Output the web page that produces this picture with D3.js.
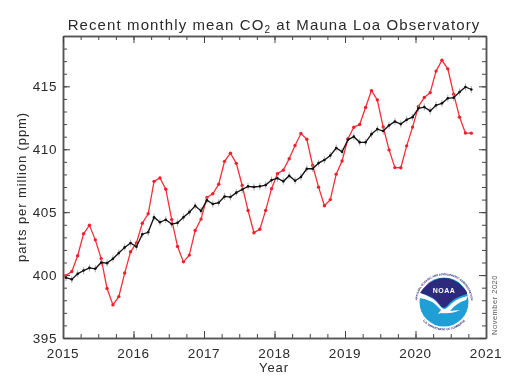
<!DOCTYPE html>
<html>
<head>
<meta charset="utf-8">
<script src="https://cdn.jsdelivr.net/npm/d3@7"></script>
<style>
	html, body { margin: 0; padding: 0; background: #fff; }
	svg { display: block; filter: blur(0.45px); }
	text { font-family: "Liberation Sans", sans-serif; fill: #2a2a2a; }
	.tick_label { font-size: 13.5px; letter-spacing: 0.6px; }
	.axis_title { font-size: 13px; letter-spacing: 0.9px; }
	.axis path { stroke: #555; stroke-width: 1.5; }
	.axis line { stroke: #444; stroke-width: 1; }
	.logo_ring { font-size: 2.8px; font-weight: bold; fill: #1c1c68; }
</style>
</head>
<body>
<svg id="chart" width="521" height="377"></svg>
<script>
// Monthly mean CO2, one row per year, starting January 2015
const startYear = 2015;
const monthly2015 = [399.98, 400.28, 401.54, 403.28, 403.96, 402.80, 401.31, 398.93, 397.63, 398.29, 400.16, 401.85];
const monthly2016 = [402.56, 404.12, 404.87, 407.45, 407.72, 406.83, 404.41, 402.27, 401.05, 401.59, 403.55, 404.45];
const monthly2017 = [406.17, 406.46, 407.22, 409.04, 409.69, 408.88, 407.12, 405.13, 403.37, 403.64, 405.14, 406.87];
const monthly2018 = [408.05, 408.34, 409.25, 410.30, 411.25, 410.79, 408.71, 406.99, 405.51, 406.00, 408.02, 409.07];
const monthly2019 = [410.83, 411.75, 411.97, 413.32, 414.66, 413.92, 411.77, 409.95, 408.54, 408.53, 410.27, 411.76];
const monthly2020 = [413.40, 414.11, 414.50, 416.21, 417.07, 416.39, 414.38, 412.55, 411.29, 411.28];

// Seasonally corrected trend
const trend2015 = [399.8, 399.66, 400.1, 400.36, 400.57, 400.5, 401.0, 400.95, 401.3, 401.75, 402.2, 402.55];
const trend2016 = [402.25, 403.25, 403.4, 404.6, 404.2, 404.4, 404.05, 404.15, 404.6, 405.0, 405.5, 405.1];
const trend2017 = [405.95, 405.65, 405.75, 406.25, 406.2, 406.55, 406.8, 407.05, 407.0, 407.05, 407.15, 407.55];
const trend2018 = [407.7, 407.45, 407.9, 407.5, 407.8, 408.45, 408.45, 408.9, 409.15, 409.5, 410.1, 409.8];
const trend2019 = [410.75, 411.0, 410.55, 410.55, 411.2, 411.6, 411.45, 411.9, 412.2, 412.0, 412.35, 412.55];
const trend2020 = [413.25, 413.35, 413.05, 413.5, 413.65, 414.05, 414.1, 414.55, 414.95, 414.75];

const trendError = 0.28;

const yearTicks = [2015, 2016, 2017, 2018, 2019, 2020, 2021];
const ppmTicks = [395, 400, 405, 410, 415];

const l = { left: 63, right: 486, top: 36, bottom: 338 };

const monthlyData = [monthly2015, monthly2016, monthly2017, monthly2018, monthly2019, monthly2020].flat();
const trendData = [trend2015, trend2016, trend2017, trend2018, trend2019, trend2020].flat();
const decimalDate = (i) => startYear + (i + 0.5) / 12;

const xScale = d3.scaleLinear().domain([2015, 2021]).range([l.left, l.right]);
const yScale = d3.scaleLinear().domain([395, 419]).range([l.bottom, l.top]);

const svg = d3.select('#chart');

// Frame side: minor ticks first, then majors with the domain line
function renderAxis(axisFn, scale, translate, majors, minors) {
	svg.append('g')
		.attr('class', 'axis')
		.attr('transform', translate)
		.call(axisFn(scale).tickValues(minors).tickSize(-4).tickSizeOuter(0).tickFormat(''));
	svg.append('g')
		.attr('class', 'axis')
		.attr('transform', translate)
		.call(axisFn(scale).tickValues(majors).tickSize(-7).tickSizeOuter(0).tickFormat(''));
}

const xMinor = d3.range(0, 25).map(i => 2015 + i / 4);
const yMinor = d3.range(395, 420);

renderAxis(d3.axisBottom, xScale, `translate(0,${l.bottom})`, yearTicks, xMinor);
renderAxis(d3.axisLeft, yScale, `translate(${l.left},0)`, ppmTicks, yMinor);
renderAxis(d3.axisTop, xScale, `translate(0,${l.top})`, yearTicks, xMinor);
renderAxis(d3.axisRight, yScale, `translate(${l.right},0)`, ppmTicks, yMinor);

svg.selectAll('.x_label')
	.data(yearTicks).enter()
	.append('text')
	.attr('class', 'tick_label x_label')
	.attr('x', d => xScale(d))
	.attr('y', 358)
	.attr('text-anchor', 'middle')
	.text(d => d);

svg.selectAll('.y_label')
	.data(ppmTicks).enter()
	.append('text')
	.attr('class', 'tick_label y_label')
	.attr('x', 57)
	.attr('y', d => yScale(d) + 5)
	.attr('text-anchor', 'end')
	.text(d => d);

// Titles
const title = svg.append('text')
	.attr('x', 274)
	.attr('y', 30)
	.attr('text-anchor', 'middle')
	.style('font-size', '15px')
	.style('letter-spacing', '1.1px');
title.append('tspan').text('Recent monthly mean CO');
title.append('tspan').attr('dy', 3).style('font-size', '10px').text('2');
title.append('tspan').attr('dy', -3).text(' at Mauna Loa Observatory');

svg.append('text')
	.attr('class', 'axis_title')
	.attr('x', 274)
	.attr('y', 372)
	.attr('text-anchor', 'middle')
	.text('Year');

svg.append('text')
	.attr('class', 'axis_title')
	.attr('transform', 'translate(26,187) rotate(-90)')
	.attr('text-anchor', 'middle')
	.text('parts per million (ppm)');

svg.append('text')
	.attr('transform', 'translate(497,305) rotate(-90)')
	.attr('text-anchor', 'middle')
	.style('font-size', '7.5px')
	.style('letter-spacing', '0.5px')
	.style('fill', '#555')
	.text('November 2020');

// Monthly mean (red)
const lineGen = d3.line()
	.x((d, i) => xScale(decimalDate(i)))
	.y(d => yScale(d));

svg.append('path')
	.datum(monthlyData)
	.attr('class', 'monthly_line')
	.attr('d', lineGen)
	.style('fill', 'none')
	.style('stroke', '#f5303a')
	.style('stroke-width', 1.3);

svg.selectAll('.monthly_point')
	.data(monthlyData).enter()
	.append('circle')
	.attr('class', 'monthly_point')
	.attr('cx', (d, i) => xScale(decimalDate(i)))
	.attr('cy', d => yScale(d))
	.attr('r', 1.7)
	.style('fill', '#f0202c');

// Trend (black) with whiskers
svg.selectAll('.trend_whisker')
	.data(trendData).enter()
	.append('line')
	.attr('class', 'trend_whisker')
	.attr('x1', (d, i) => xScale(decimalDate(i)))
	.attr('x2', (d, i) => xScale(decimalDate(i)))
	.attr('y1', d => yScale(d - trendError))
	.attr('y2', d => yScale(d + trendError))
	.style('stroke', '#999')
	.style('stroke-width', 0.8);

svg.append('path')
	.datum(trendData)
	.attr('class', 'trend_line')
	.attr('d', lineGen)
	.style('fill', 'none')
	.style('stroke', '#111')
	.style('stroke-width', 1.3);

svg.selectAll('.trend_point')
	.data(trendData).enter()
	.append('circle')
	.attr('class', 'trend_point')
	.attr('cx', (d, i) => xScale(decimalDate(i)))
	.attr('cy', d => yScale(d))
	.attr('r', 1.3)
	.style('fill', '#111');

// NOAA logo
const gLogo = svg.append('g').attr('class', 'g_logo').attr('transform', 'translate(444,302)');
gLogo.append('circle').attr('r', 29).style('fill', '#fff');
const defs = svg.append('defs');
defs.append('path').attr('id', 'logo_arc_top').attr('d', 'M-25.4,9 A26.9,26.9 0 1 1 25.4,9');
defs.append('path').attr('id', 'logo_arc_bottom').attr('d', 'M-24,15 A28.2,28.2 0 0 0 24,15');
gLogo.append('text')
	.attr('class', 'logo_ring')
	.append('textPath').attr('href', '#logo_arc_top').attr('startOffset', '50%')
	.attr('text-anchor', 'middle')
	.text('NATIONAL OCEANIC AND ATMOSPHERIC ADMINISTRATION');
gLogo.append('text')
	.attr('class', 'logo_ring')
	.append('textPath').attr('href', '#logo_arc_bottom').attr('startOffset', '50%')
	.attr('text-anchor', 'middle')
	.text('U.S. DEPARTMENT OF COMMERCE');
gLogo.append('circle').attr('r', 24.5).style('fill', '#1f9fd6');
gLogo.append('path')
	.attr('d', 'M-18,-16 A24.5,24.5 0 0 1 18,-16 Q24,-10 23,-8 Q10,-5 3,4 Q-1,8 -4,3 Q-10,-6 -24,-9 Q-22,-13 -18,-16 Z')
	.style('fill', '#2b2a7c');
gLogo.append('path')
	.attr('d', 'M-24,-9 Q-10,-5 -3,5 Q0,9 4,5 Q12,-4 24,-6 L22,-2 Q12,1 6,9 L16,8 Q8,12 -3,11 L-6,12 Q-4,9 -3,8 Q-12,-3 -24.5,-4 Z')
	.style('fill', '#fff');
gLogo.append('text')
	.attr('y', -9)
	.attr('text-anchor', 'middle')
	.style('font-size', '7px')
	.style('font-weight', 'bold')
	.style('letter-spacing', '0.5px')
	.style('fill', '#fff')
	.text('NOAA');
</script>
</body>
</html>
